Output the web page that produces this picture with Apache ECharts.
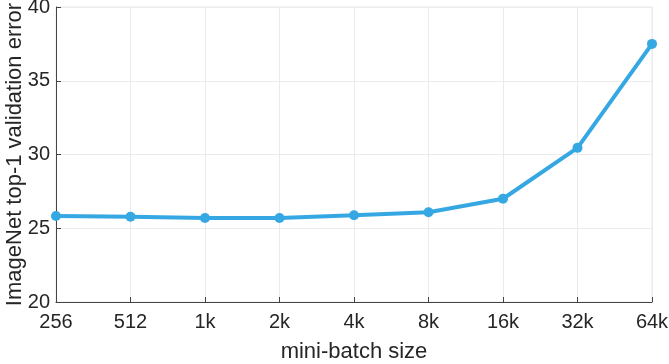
<!DOCTYPE html>
<html>
<head>
<meta charset="utf-8">
<script src="https://cdn.jsdelivr.net/npm/echarts@6/dist/echarts.min.js"></script>
<style>
    html, body { margin: 0; padding: 0; background: #fff; }
    #chart { width: 669px; height: 364px; }
</style>
</head>
<body>
<div id="chart"></div>
<script>
// batch sizes on the x axis
var batchSizes = ['256', '512', '1k', '2k', '4k', '8k', '16k', '32k', '64k'];
// top-1 validation error (%)
var errorValues = [25.83, 25.78, 25.7, 25.7, 25.88, 26.08, 27.0, 30.45, 37.5];

var chart = echarts.init(document.getElementById('chart'));
var textColor = '#262626';
var font = 'Liberation Sans, Arial, sans-serif';

chart.setOption({
    animation: false,
    grid: {
        left: 56,
        right: 17,
        top: 7,
        bottom: 62,
        outerBoundsMode: 'none',
        show: true,
        borderColor: '#ebebeb',
        borderWidth: 1
    },
    xAxis: {
        type: 'category',
        data: batchSizes,
        boundaryGap: false,
        name: 'mini-batch size',
        nameLocation: 'middle',
        nameGap: 39,
        nameMoveOverlap: false,
        nameTextStyle: { color: textColor, fontSize: 22, fontFamily: font },
        axisLine: { lineStyle: { color: '#444', width: 1 } },
        axisTick: { inside: true, length: 5, lineStyle: { color: '#444' } },
        axisLabel: { color: textColor, fontSize: 20, fontFamily: font, margin: 10 },
        splitLine: { show: true, lineStyle: { color: '#ebebeb', width: 1 } }
    },
    yAxis: {
        type: 'value',
        min: 20,
        max: 40,
        interval: 5,
        name: 'ImageNet top-1 validation error',
        nameLocation: 'middle',
        nameGap: 30,
        nameMoveOverlap: false,
        nameTextStyle: { color: textColor, fontSize: 22, fontFamily: font },
        axisLine: { show: true, lineStyle: { color: '#444', width: 1 } },
        axisTick: { show: true, inside: true, length: 5, lineStyle: { color: '#444' } },
        axisLabel: { color: textColor, fontSize: 20, fontFamily: font, margin: 6 },
        splitLine: { show: true, lineStyle: { color: '#ebebeb', width: 1 } }
    },
    series: [{
        type: 'line',
        data: errorValues,
        symbol: 'circle',
        symbolSize: 10,
        color: '#35a8e4',
        lineStyle: { width: 4, color: '#35a8e4' },
        itemStyle: { color: '#35a8e4' }
    }]
});
</script>
</body>
</html>
